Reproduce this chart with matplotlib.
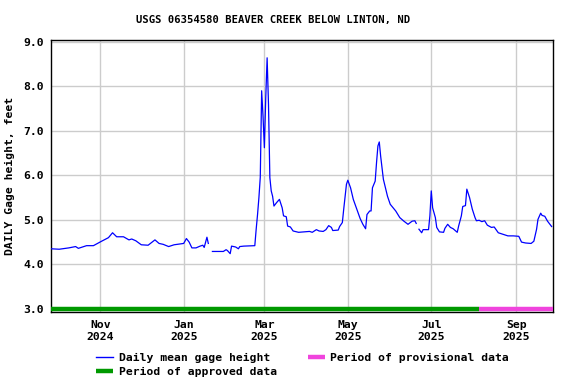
import numpy as np
import pandas as pd
import matplotlib
matplotlib.use("Agg")
import matplotlib.pyplot as plt
from matplotlib.lines import Line2D

title = "USGS 06354580 BEAVER CREEK BELOW LINTON, ND"
ylabel = "DAILY Gage height, feet"

dates = [
    "2024-09-26", "2024-10-02", "2024-10-09", "2024-10-14", "2024-10-16", "2024-10-22",
    "2024-10-27", "2024-10-30", "2024-11-02", "2024-11-07", "2024-11-10", "2024-11-13",
    "2024-11-18", "2024-11-22", "2024-11-24", "2024-11-27", "2024-12-01", "2024-12-06",
    "2024-12-11", "2024-12-14", "2024-12-17", "2024-12-21", "2024-12-25", "2025-01-01",
    "2025-01-03", "2025-01-05", "2025-01-07", "2025-01-10", "2025-01-13", "2025-01-15",
    "2025-01-16", "2025-01-18", "2025-01-19", "2025-01-20", "2025-01-22", "2025-01-30",
    "2025-02-01", "2025-02-02", "2025-02-04", "2025-02-05", "2025-02-08", "2025-02-10",
    "2025-02-11", "2025-02-14", "2025-02-22", "2025-02-23", "2025-02-24", "2025-02-25",
    "2025-02-26", "2025-02-27", "2025-02-28", "2025-03-01", "2025-03-02", "2025-03-03",
    "2025-03-04", "2025-03-05", "2025-03-06", "2025-03-07", "2025-03-08", "2025-03-10",
    "2025-03-12", "2025-03-14", "2025-03-15", "2025-03-17", "2025-03-18", "2025-03-20",
    "2025-03-22", "2025-03-26", "2025-03-30", "2025-04-03", "2025-04-05", "2025-04-08",
    "2025-04-10", "2025-04-13", "2025-04-15", "2025-04-17", "2025-04-19", "2025-04-20",
    "2025-04-24", "2025-04-25", "2025-04-27", "2025-04-28", "2025-04-30", "2025-05-01",
    "2025-05-03", "2025-05-05", "2025-05-08", "2025-05-10", "2025-05-12", "2025-05-14",
    "2025-05-15", "2025-05-17", "2025-05-18", "2025-05-19", "2025-05-21", "2025-05-22",
    "2025-05-23", "2025-05-24", "2025-05-25", "2025-05-27", "2025-05-30", "2025-06-01",
    "2025-06-05", "2025-06-08", "2025-06-11", "2025-06-14", "2025-06-17", "2025-06-19",
    "2025-06-20", "2025-06-21", "2025-06-22", "2025-06-24", "2025-06-25", "2025-06-27",
    "2025-06-29", "2025-06-30", "2025-07-01", "2025-07-02", "2025-07-04", "2025-07-05",
    "2025-07-07", "2025-07-10", "2025-07-11", "2025-07-13", "2025-07-15", "2025-07-17",
    "2025-07-20", "2025-07-21", "2025-07-23", "2025-07-24", "2025-07-26", "2025-07-27",
    "2025-07-29", "2025-07-31", "2025-08-02", "2025-08-03", "2025-08-05", "2025-08-07",
    "2025-08-09", "2025-08-11", "2025-08-14", "2025-08-16", "2025-08-19", "2025-08-22",
    "2025-08-26", "2025-08-30", "2025-09-03", "2025-09-05", "2025-09-08", "2025-09-12",
    "2025-09-14", "2025-09-16", "2025-09-17", "2025-09-19", "2025-09-20", "2025-09-22",
    "2025-09-24", "2025-09-27",
]

gage_height = [
    4.35, 4.34, 4.37, 4.40, 4.36, 4.42,
    4.42, 4.47, 4.52, 4.60, 4.71, 4.62,
    4.62, 4.55, 4.57, 4.53, 4.44, 4.43,
    4.55, 4.47, 4.45, 4.40, 4.44, 4.47,
    4.58, 4.50, 4.37, 4.37, 4.41, 4.43,
    4.38, 4.61, 4.47, np.nan, 4.29, 4.29,
    4.33, 4.31, 4.24, 4.41, 4.39, 4.35,
    4.40, 4.41, 4.42, 4.79, 5.12, 5.50,
    5.96, 7.90, 7.33, 6.62, 7.75, 8.64,
    7.60, 5.95, 5.65, 5.53, 5.31, 5.39,
    5.46, 5.27, 5.09, 5.07, 4.86, 4.84,
    4.75, 4.72, 4.73, 4.74, 4.72, 4.78,
    4.75, 4.74, 4.78, 4.87, 4.83, 4.76,
    4.77, 4.85, 4.94, 5.24, 5.80, 5.89,
    5.72, 5.46, 5.20, 5.03, 4.90, 4.80,
    5.12, 5.20, 5.20, 5.72, 5.87, 6.29,
    6.66, 6.75, 6.43, 5.91, 5.53, 5.35,
    5.20, 5.05, 4.97, 4.90, 4.97, 4.98,
    4.92, np.nan, 4.79, 4.71, 4.78, 4.78,
    4.78, 5.09, 5.65, 5.27, 5.05, 4.83,
    4.73, 4.72, 4.81, 4.90, 4.83, 4.80,
    4.72, 4.86, 5.09, 5.30, 5.32, 5.69,
    5.50, 5.24, 5.05, 4.98, 4.99, 4.96,
    4.98, 4.88, 4.83, 4.84, 4.71, 4.68,
    4.64, 4.64, 4.63, 4.50, 4.48, 4.47,
    4.52, 4.79, 5.01, 5.15, 5.10, 5.08,
    4.97, 4.85,
]

approved_start = "2024-09-26"
provisional_start = "2025-08-05"
period_end = "2025-09-28"
x_start = "2024-09-26"
x_end = "2025-09-28"

tick_dates = ["2024-11-01", "2025-01-01", "2025-03-01", "2025-05-01", "2025-07-01", "2025-09-01"]
tick_labels = ["Nov\n2024", "Jan\n2025", "Mar\n2025", "May\n2025", "Jul\n2025", "Sep\n2025"]
y_ticks = [3.0, 4.0, 5.0, 6.0, 7.0, 8.0, 9.0]

FONT = "DejaVu Sans Mono"
plt.rcParams["font.family"] = [FONT]
plt.rcParams["font.weight"] = "bold"

fig = plt.figure(figsize=(5.76, 3.84), dpi=100)
ax = fig.add_axes([51 / 576, 1 - 312 / 384, (553 - 51) / 576, (312 - 40) / 384])

d = pd.to_datetime(dates)
ax.plot(d, gage_height, color="#0000ff", lw=0.9, zorder=3)

bar_y = y_ticks[0]
ax.plot(pd.to_datetime([approved_start, provisional_start]), [bar_y, bar_y],
        color="#009900", lw=3.2, solid_capstyle="butt", zorder=4)
ax.plot(pd.to_datetime([provisional_start, period_end]), [bar_y, bar_y],
        color="#f044dd", lw=3.2, solid_capstyle="butt", zorder=4)

ax.set_xlim(pd.Timestamp(x_start), pd.Timestamp(x_end))
ax.set_ylim(2.93, 9.04)
ax.set_yticks(y_ticks)
ax.set_yticklabels([f"{v:.1f}" for v in y_ticks], fontsize=8.2, fontweight="bold")
ax.set_xticks(pd.to_datetime(tick_dates))
ax.set_xticklabels(tick_labels, fontsize=8.2, fontweight="bold", linespacing=1.2)
ax.tick_params(axis="x", length=0, pad=6)
ax.tick_params(axis="y", length=0, pad=5)
ax.grid(True, color="#cccccc", lw=1.0, zorder=0)
for s in ax.spines.values():
    s.set_color("black")
    s.set_linewidth(1.0)

ax.set_ylabel(ylabel, fontsize=8.2, fontweight="bold", labelpad=6)
fig.text(273.5 / 576, 1 - 20 / 384, title, ha="center", va="center", fontsize=7.6, fontweight="bold")

handles = [
    Line2D([], [], color="#0000ff", lw=1.0),
    Line2D([], [], color="#009900", lw=3.2, solid_capstyle="butt"),
    Line2D([], [], color="#f044dd", lw=3.2, solid_capstyle="butt"),
]
labels = ["Daily mean gage height", "Period of approved data", "Period of provisional data"]
fig.legend(handles, labels, ncol=2, loc="upper left", bbox_to_anchor=(96 / 576, 1 - 352.5 / 384),
           frameon=False, prop={"weight": "bold", "size": 8.2},
           handlelength=1.5, handletextpad=0.5, columnspacing=2.7, labelspacing=0.42,
           borderpad=0, borderaxespad=0)

fig.savefig("out.png", dpi=100)
